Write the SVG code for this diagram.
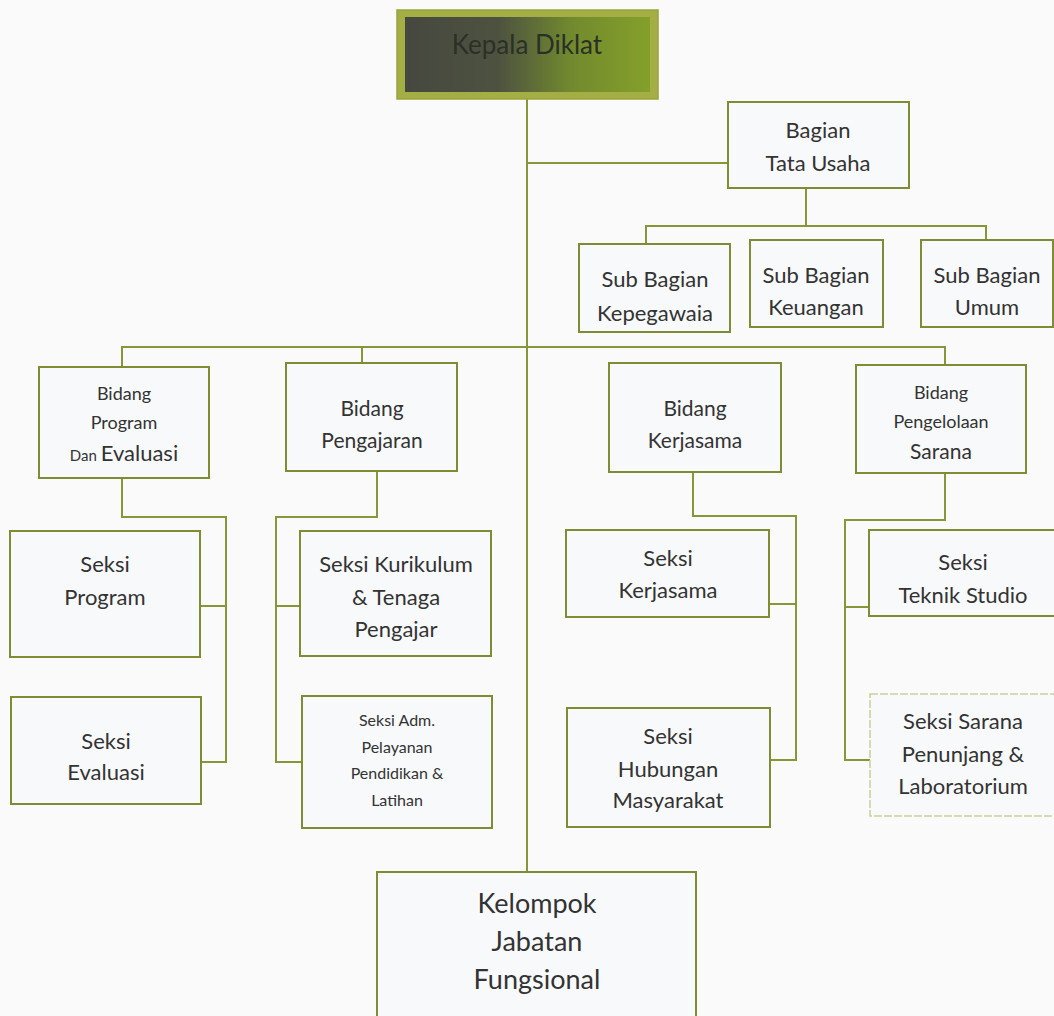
<svg xmlns="http://www.w3.org/2000/svg" width="1054" height="1016" viewBox="0 0 1054 1016">
<style>
.box{fill:#f8f9fb;stroke:#7f8c34;stroke-width:2}
.light{fill:#f8f9fb;stroke:#c9cf9c;stroke-width:1.5;stroke-dasharray:8 2}
.ln{fill:none;stroke:#879638;stroke-width:2}
text{font-family:Lato,"Open Sans","Liberation Sans",sans-serif;fill:#333;text-anchor:middle}
.t22{font-size:22px}
.t21{font-size:21px}
.t18{font-size:18px}
.t16{font-size:16px}
.t27{font-size:27px}
</style>
<defs>
<linearGradient id="g" x1="0" y1="0" x2="1" y2="0">
<stop offset="0" stop-color="#46483f"/>
<stop offset="0.38" stop-color="#4d5240"/>
<stop offset="0.68" stop-color="#728a2e"/>
<stop offset="1" stop-color="#84a02a"/>
</linearGradient>
</defs>
<rect width="1054" height="1016" fill="#fafafb"/>
<g id="connectors">
<path class="ln" d="M527 99V872"/>
<path class="ln" d="M527 163H728"/>
<path class="ln" d="M806 188V226M646 244V226H986V240"/>
<path class="ln" d="M122 367V347H945V365M362 347V363"/>
<path class="ln" d="M122 478V517H226V762H201M226 606H200"/>
<path class="ln" d="M377 471V517H276V762H302M276 606H300"/>
<path class="ln" d="M693 472V516H796V760H770M796 604H769"/>
<path class="ln" d="M945 473V520H845V760H870M845 607H869"/>
</g>
<g id="kepala">
<rect x="397" y="10" width="261" height="89" fill="#a3ae44" stroke="#98a43c" stroke-width="1.5"/>
<rect x="405" y="17" width="245" height="75" fill="url(#g)"/>
<text x="527" y="54" font-size="26" style="fill:#2b3026">Kepala Diklat</text>
</g>
<g id="tatausaha">
<rect class="box" x="728" y="102" width="181" height="86"/>
<text class="t22" x="818" y="138">Bagian</text>
<text class="t22" x="818" y="171">Tata Usaha</text>
</g>
<g id="kepegawaian">
<rect class="box" x="579" y="244" width="151" height="88"/>
<text class="t22" x="655" y="287">Sub Bagian</text>
<text class="t22" x="655" y="321">Kepegawaia</text>
</g>
<g id="keuangan">
<rect class="box" x="750" y="240" width="133" height="87"/>
<text class="t22" x="816" y="283">Sub Bagian</text>
<text class="t22" x="816" y="315">Keuangan</text>
</g>
<g id="umum">
<rect class="box" x="921" y="240" width="132" height="87"/>
<text class="t22" x="987" y="283">Sub Bagian</text>
<text class="t22" x="987" y="315">Umum</text>
</g>
<g id="bidang-program">
<rect class="box" x="39" y="367" width="170" height="111"/>
<text class="t18" x="124" y="400">Bidang</text>
<text class="t18" x="124" y="429">Program</text>
<text x="124" y="461"><tspan font-size="15">Dan </tspan><tspan font-size="22">Evaluasi</tspan></text>
</g>
<g id="bidang-pengajaran">
<rect class="box" x="286" y="363" width="171" height="108"/>
<text class="t21" x="372" y="416">Bidang</text>
<text class="t21" x="372" y="448">Pengajaran</text>
</g>
<g id="bidang-kerjasama">
<rect class="box" x="609" y="363" width="172" height="109"/>
<text class="t21" x="695" y="416">Bidang</text>
<text class="t21" x="695" y="448">Kerjasama</text>
</g>
<g id="bidang-sarana">
<rect class="box" x="856" y="365" width="170" height="108"/>
<text class="t18" x="941" y="399">Bidang</text>
<text class="t18" x="941" y="428">Pengelolaan</text>
<text class="t21" x="941" y="459">Sarana</text>
</g>
<g id="seksi-program">
<rect class="box" x="10" y="531" width="190" height="126"/>
<text class="t22" x="105" y="572">Seksi</text>
<text class="t22" x="105" y="605">Program</text>
</g>
<g id="seksi-evaluasi">
<rect class="box" x="11" y="697" width="190" height="107"/>
<text class="t22" x="106" y="749">Seksi</text>
<text class="t22" x="106" y="780">Evaluasi</text>
</g>
<g id="seksi-kurikulum">
<rect class="box" x="300" y="531" width="191" height="125"/>
<text class="t22" x="396" y="572">Seksi Kurikulum</text>
<text class="t22" x="396" y="605">&amp; Tenaga</text>
<text class="t22" x="396" y="637">Pengajar</text>
</g>
<g id="seksi-adm">
<rect class="box" x="302" y="696" width="190" height="132"/>
<text class="t16" x="397" y="726">Seksi Adm.</text>
<text class="t16" x="397" y="753">Pelayanan</text>
<text class="t16" x="397" y="779">Pendidikan &amp;</text>
<text class="t16" x="397" y="806">Latihan</text>
</g>
<g id="seksi-kerjasama">
<rect class="box" x="566" y="530" width="203" height="87"/>
<text class="t22" x="668" y="566">Seksi</text>
<text class="t22" x="668" y="598">Kerjasama</text>
</g>
<g id="seksi-humas">
<rect class="box" x="567" y="708" width="203" height="119"/>
<text class="t22" x="668" y="744">Seksi</text>
<text class="t22" x="668" y="777">Hubungan</text>
<text class="t22" x="668" y="808">Masyarakat</text>
</g>
<g id="seksi-teknik">
<rect class="box" x="869" y="530" width="190" height="86"/>
<text class="t22" x="963" y="570">Seksi</text>
<text class="t22" x="963" y="603">Teknik Studio</text>
</g>
<g id="seksi-sarana">
<rect class="light" x="870" y="694" width="190" height="122"/>
<text class="t22" x="963" y="729">Seksi Sarana</text>
<text class="t22" x="963" y="762">Penunjang &amp;</text>
<text class="t22" x="963" y="794">Laboratorium</text>
</g>
<g id="fungsional">
<rect class="box" x="377" y="872" width="319" height="150"/>
<text class="t27" x="537" y="913">Kelompok</text>
<text class="t27" x="537" y="951">Jabatan</text>
<text class="t27" x="537" y="989">Fungsional</text>
</g>
</svg>
